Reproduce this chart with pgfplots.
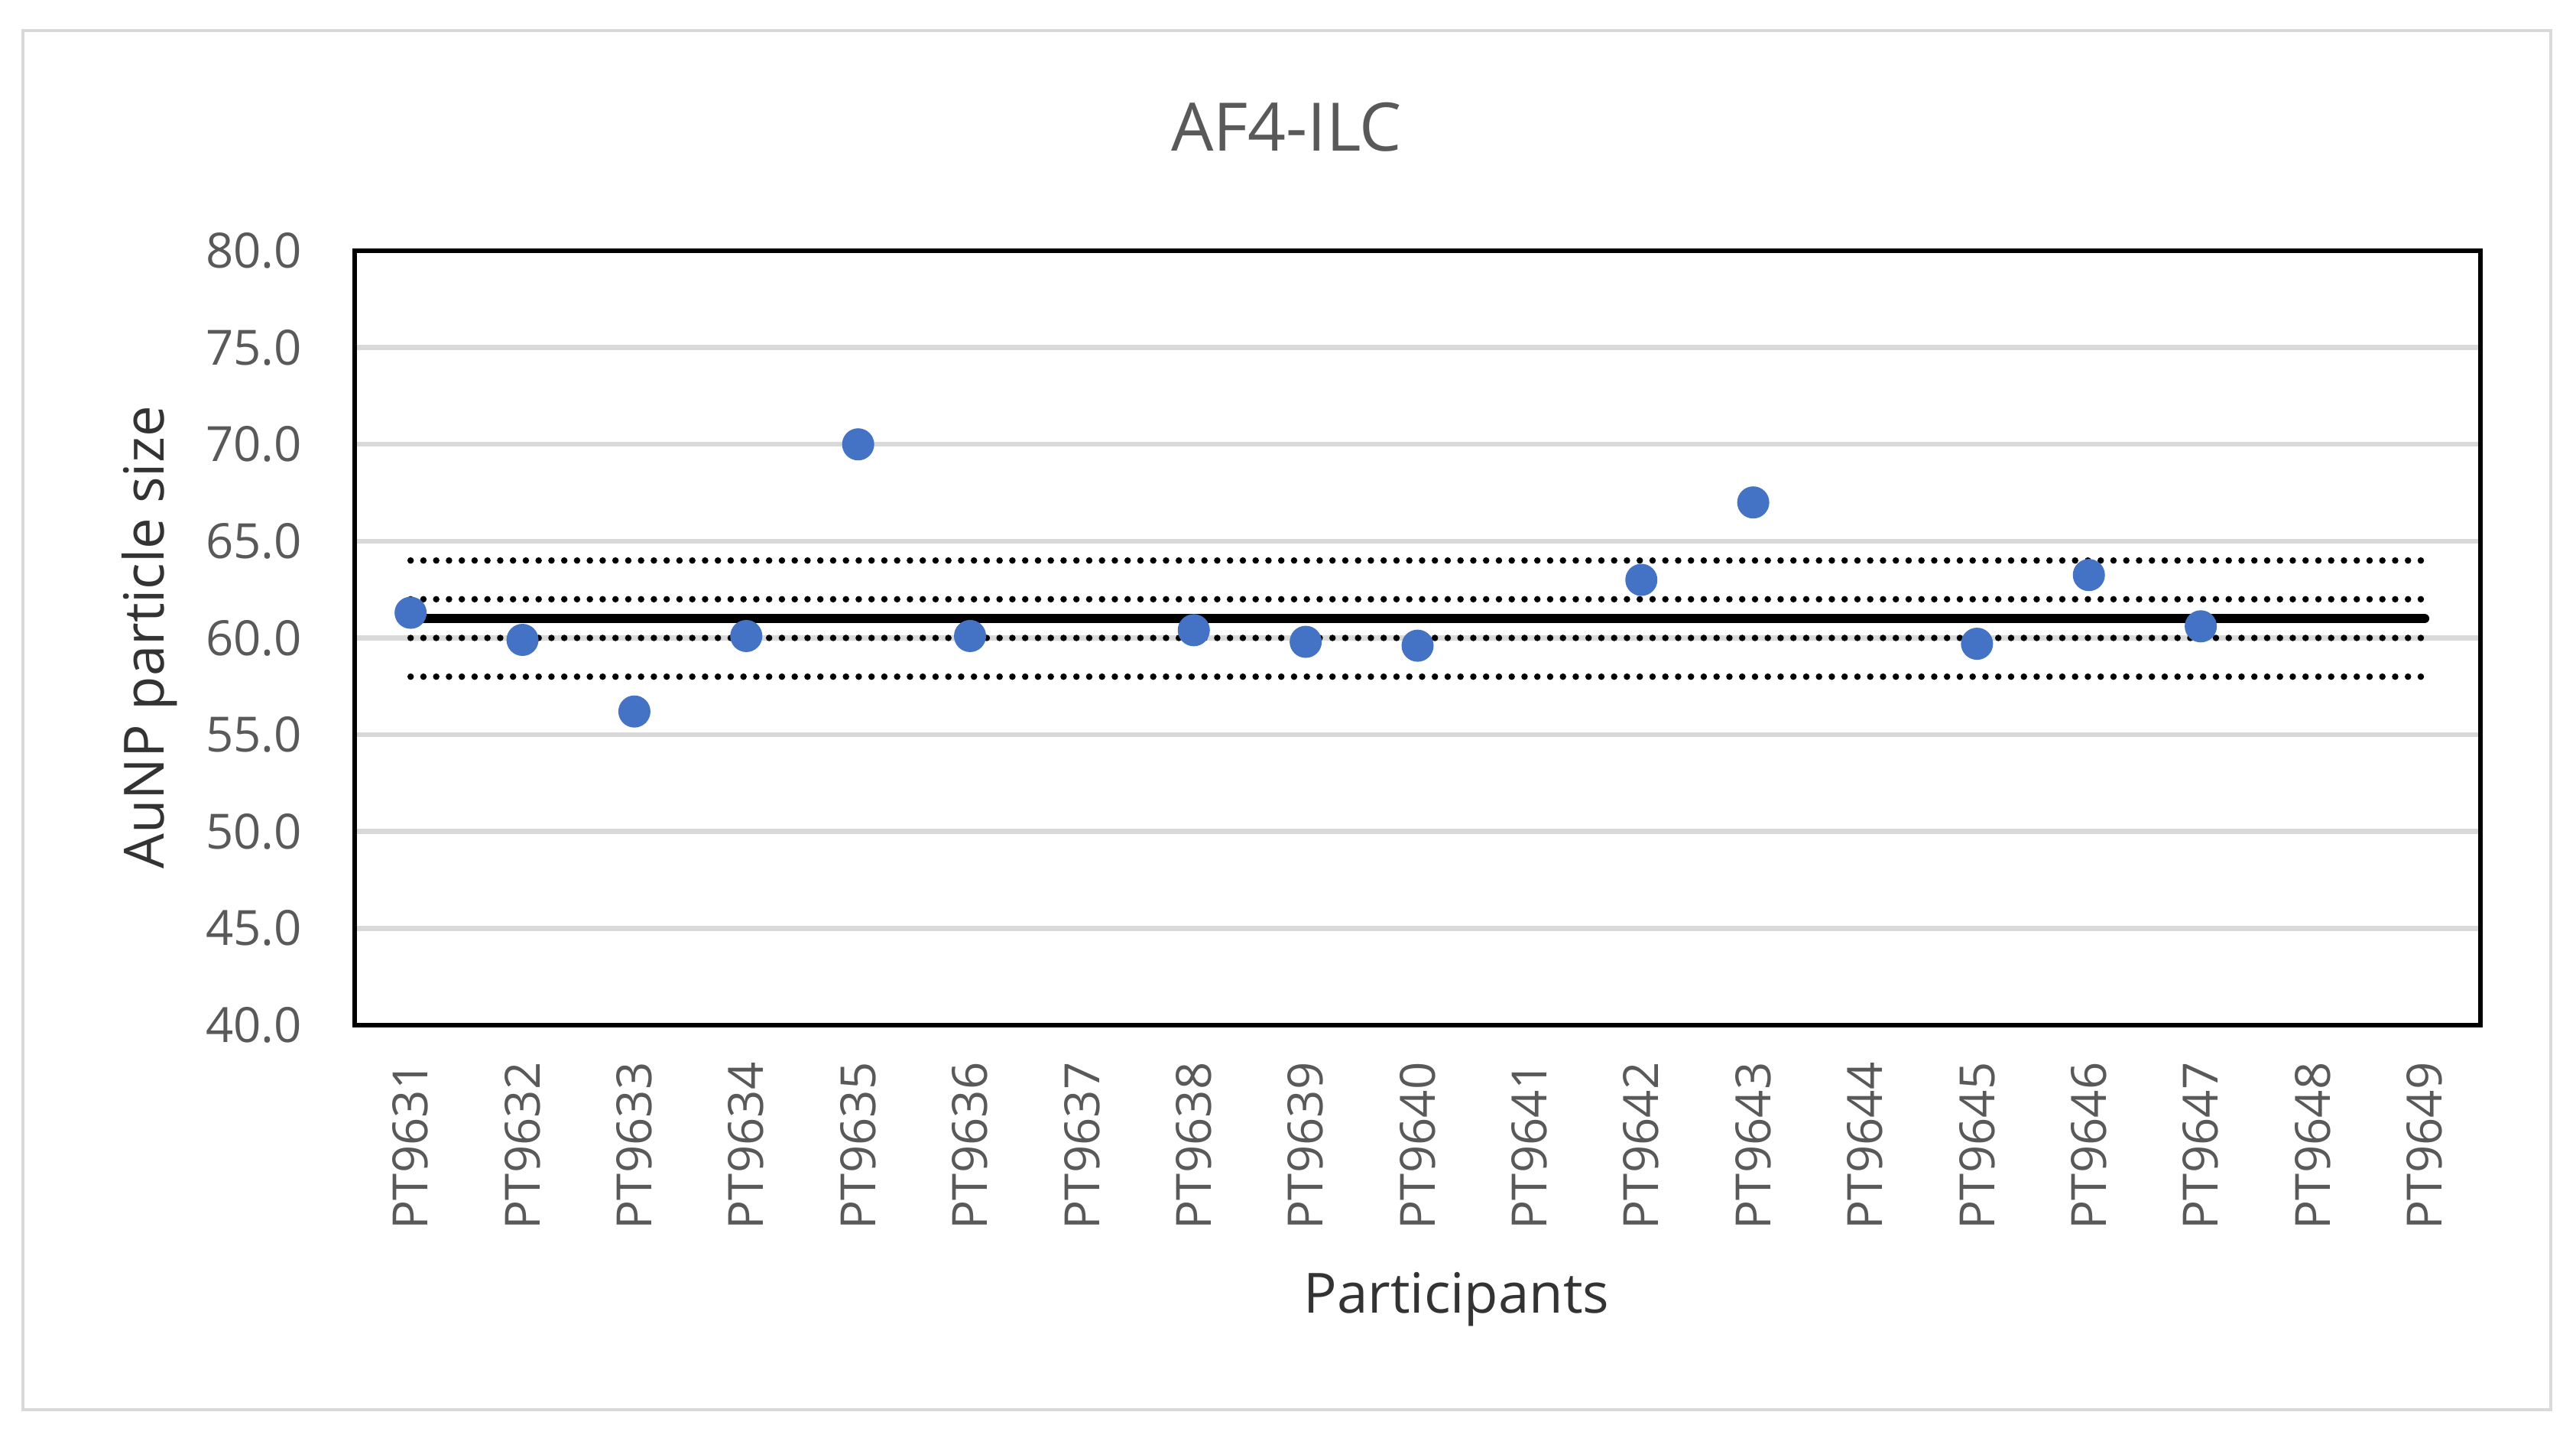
\documentclass[border=0pt]{standalone}
\usepackage{fontspec}
\setmainfont{Open Sans}
\usepackage{pgfplots}
\pgfplotsset{compat=1.18}
\definecolor{ticktxt}{HTML}{595959}
\definecolor{lbltxt}{HTML}{333333}
\definecolor{gridc}{HTML}{D9D9D9}
\definecolor{ptblue}{HTML}{4472C4}
\begin{document}
\begin{tikzpicture}
\path[use as bounding box] (0,0) rectangle (674pt,376.2pt);
\draw[gridc, line width=0.8pt] (6pt,7.4pt) rectangle (667.4pt,368.2pt);
\node[text=ticktxt, font=\fontsize{17.5}{21}\selectfont] at (336.6pt,343pt) {AF4-ILC};
\node[text=lbltxt, font=\fontsize{14.5}{17}\selectfont] at (381.1pt,36.2pt) {Participants};
\node[text=lbltxt, font=\fontsize{14.5}{17}\selectfont, rotate=90] at (39.2pt,209.4pt) {AuNP particle size};
\begin{axis}[
  at={(92.8pt,108pt)}, anchor=south west,
  scale only axis, width=556.2pt, height=202.6pt,
  xmin=0.5, xmax=19.5, ymin=40, ymax=80,
  xtick={1,...,19},
  xticklabels={PT9631,PT9632,PT9633,PT9634,PT9635,PT9636,PT9637,PT9638,PT9639,PT9640,PT9641,PT9642,PT9643,PT9644,PT9645,PT9646,PT9647,PT9648,PT9649},
  ytick={40,45,...,80},
  major tick length=0pt,
  ymajorgrids,
  grid style={gridc, line width=1.3pt},
  axis line style={black, line width=1.3pt},
  xticklabel style={rotate=90, anchor=east, text=ticktxt, font=\fontsize{12.7}{15}\selectfont},
  yticklabel style={text=ticktxt, font=\fontsize{12.7}{15}\selectfont,
    /pgf/number format/.cd, fixed, fixed zerofill, precision=1, assume math mode=true},
  xticklabel shift=6.2pt,
  yticklabel shift=10.3pt,
  clip=false,
]
\addplot[black, line width=1.7pt, line cap=round, dash pattern=on 0pt off 3.35pt] coordinates {(1,58) (19,58)};
\addplot[black, line width=1.7pt, line cap=round, dash pattern=on 0pt off 3.35pt] coordinates {(1,60) (19,60)};
\addplot[black, line width=1.7pt, line cap=round, dash pattern=on 0pt off 3.35pt] coordinates {(1,62) (19,62)};
\addplot[black, line width=1.7pt, line cap=round, dash pattern=on 0pt off 3.35pt] coordinates {(1,64) (19,64)};
\addplot[black, line width=2.5pt, line cap=round] coordinates {(1,61) (19,61)};
\addplot[only marks, mark=*, mark size=4pt, mark options={fill=ptblue, draw=ptblue}] coordinates {
  (1,61.3) (2,59.9) (3,56.2) (4,60.1) (5,70.0) (6,60.1)
  (8,60.4) (9,59.8) (10,59.6) (12,63.0) (13,67.0)
  (15,59.7) (16,63.25) (17,60.6)
};
\end{axis}
\end{tikzpicture}
\end{document}
